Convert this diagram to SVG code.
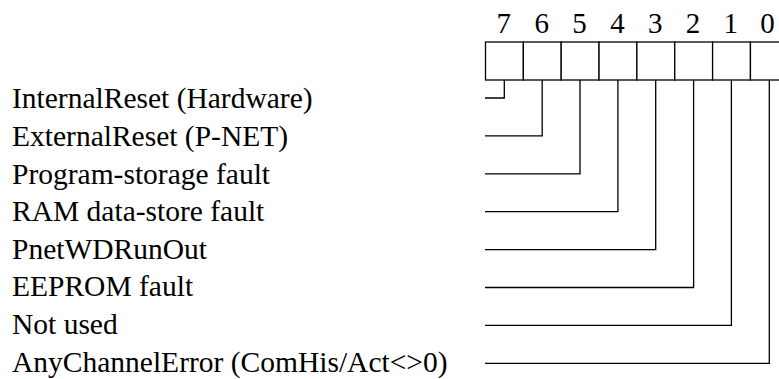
<svg xmlns="http://www.w3.org/2000/svg" width="779" height="379" viewBox="0 0 779 379">
<style>
text{font-family:"Liberation Serif","Times New Roman",serif;fill:#000}
.lbl{font-size:29.5px}
.dig{font-size:29px;text-anchor:middle}
.cell{fill:#fff;stroke:#000;stroke-width:1.3}
.con{fill:none;stroke:#000;stroke-width:1.3}
</style>
<rect width="779" height="379" fill="#fff"/>
<g id="bit7"><rect class="cell" x="485.5" y="42" width="37.85" height="38"/><text class="dig" x="503.8" y="33">7</text></g>
<g id="bit6"><rect class="cell" x="523.35" y="42" width="37.85" height="38"/><text class="dig" x="541.8" y="33">6</text></g>
<g id="bit5"><rect class="cell" x="561.2" y="42" width="37.85" height="38"/><text class="dig" x="579.6" y="33">5</text></g>
<g id="bit4"><rect class="cell" x="599.05" y="42" width="37.85" height="38"/><text class="dig" x="617.4" y="33">4</text></g>
<g id="bit3"><rect class="cell" x="636.9" y="42" width="37.85" height="38"/><text class="dig" x="655.2" y="33">3</text></g>
<g id="bit2"><rect class="cell" x="674.75" y="42" width="37.85" height="38"/><text class="dig" x="693" y="33">2</text></g>
<g id="bit1"><rect class="cell" x="712.6" y="42" width="37.85" height="38"/><text class="dig" x="730.8" y="33">1</text></g>
<g id="bit0"><rect class="cell" x="750.45" y="42" width="37.85" height="38"/><text class="dig" x="767.5" y="33">0</text></g>
<g id="label7"><text class="lbl" x="12" y="108.3">InternalReset (Hardware)</text></g>
<g id="label6"><text class="lbl" x="12" y="145.9">ExternalReset (P-NET)</text></g>
<g id="label5"><text class="lbl" x="12" y="183.5">Program-storage fault</text></g>
<g id="label4"><text class="lbl" x="12" y="221.1">RAM data-store fault</text></g>
<g id="label3"><text class="lbl" x="12" y="258.7">PnetWDRunOut</text></g>
<g id="label2"><text class="lbl" x="12" y="296.3">EEPROM fault</text></g>
<g id="label1"><text class="lbl" x="12" y="333.9">Not used</text></g>
<g id="label0"><text class="lbl" x="12" y="371.5">AnyChannelError (ComHis/Act&lt;&gt;0)</text></g>
<g id="connectors">
<polyline class="con" points="504.3,80 504.3,98 485,98"/>
<polyline class="con" points="542.2,80 542.2,135.9 485,135.9"/>
<polyline class="con" points="580,80 580,173.8 485,173.8"/>
<polyline class="con" points="617.9,80 617.9,211.7 485,211.7"/>
<polyline class="con" points="655.7,80 655.7,249.6 485,249.6"/>
<polyline class="con" points="693.6,80 693.6,287.5 485,287.5"/>
<polyline class="con" points="731.4,80 731.4,325.4 485,325.4"/>
<polyline class="con" points="769.3,80 769.3,363.3 485,363.3"/>
</g>
</svg>
